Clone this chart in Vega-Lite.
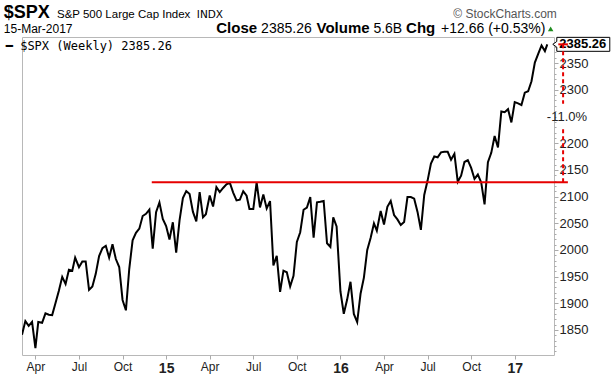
{
  "$schema": "https://vega.github.io/schema/vega-lite/v6.json",
  "width": 532,
  "height": 318,
  "autosize": "none",
  "padding": {"left": 22, "top": 37, "right": 58, "bottom": 23},
  "background": "white",
  "config": {"view": {"stroke": "#b8b8b8", "strokeWidth": 1}, "font": "Liberation Sans"},
  "resolve": {"axis": {"y": "independent"}},
  "data": {"values": [
    {"date":"2014-03-14","close":1841.13},{"date":"2014-03-21","close":1866.52},{"date":"2014-03-28","close":1857.62},{"date":"2014-04-04","close":1865.09},{"date":"2014-04-11","close":1815.69},{"date":"2014-04-17","close":1864.85},{"date":"2014-04-25","close":1863.40},{"date":"2014-05-02","close":1881.14},{"date":"2014-05-09","close":1878.48},{"date":"2014-05-16","close":1877.86},{"date":"2014-05-23","close":1900.53},{"date":"2014-05-30","close":1923.57},{"date":"2014-06-06","close":1949.44},{"date":"2014-06-13","close":1936.16},{"date":"2014-06-20","close":1962.87},{"date":"2014-06-27","close":1960.96},{"date":"2014-07-03","close":1985.44},{"date":"2014-07-11","close":1967.57},{"date":"2014-07-18","close":1978.22},{"date":"2014-07-25","close":1978.34},{"date":"2014-08-01","close":1925.15},{"date":"2014-08-08","close":1931.59},{"date":"2014-08-15","close":1955.06},{"date":"2014-08-22","close":1988.40},{"date":"2014-08-29","close":2003.37},{"date":"2014-09-05","close":2007.71},{"date":"2014-09-12","close":1985.54},{"date":"2014-09-19","close":2010.40},{"date":"2014-09-26","close":1982.85},{"date":"2014-10-03","close":1967.90},{"date":"2014-10-10","close":1906.13},{"date":"2014-10-17","close":1886.76},{"date":"2014-10-24","close":1964.58},{"date":"2014-10-31","close":2018.05},{"date":"2014-11-07","close":2031.92},{"date":"2014-11-14","close":2039.82},{"date":"2014-11-21","close":2063.50},{"date":"2014-11-28","close":2067.56},{"date":"2014-12-05","close":2075.37},{"date":"2014-12-12","close":2002.33},{"date":"2014-12-19","close":2070.65},{"date":"2014-12-26","close":2088.77},
    {"date":"2015-01-02","close":2058.20},{"date":"2015-01-09","close":2044.81},{"date":"2015-01-16","close":2019.42},{"date":"2015-01-23","close":2051.82},{"date":"2015-01-30","close":1994.99},{"date":"2015-02-06","close":2055.47},{"date":"2015-02-13","close":2096.99},{"date":"2015-02-20","close":2110.30},{"date":"2015-02-27","close":2104.50},{"date":"2015-03-06","close":2071.26},{"date":"2015-03-13","close":2053.40},{"date":"2015-03-20","close":2108.10},{"date":"2015-03-27","close":2061.02},{"date":"2015-04-02","close":2066.96},{"date":"2015-04-10","close":2102.06},{"date":"2015-04-17","close":2081.18},{"date":"2015-04-24","close":2117.69},{"date":"2015-05-01","close":2108.29},{"date":"2015-05-08","close":2116.10},{"date":"2015-05-15","close":2122.73},{"date":"2015-05-22","close":2126.06},{"date":"2015-05-29","close":2107.39},{"date":"2015-06-05","close":2092.83},{"date":"2015-06-12","close":2094.11},{"date":"2015-06-19","close":2109.99},{"date":"2015-06-26","close":2101.49},{"date":"2015-07-02","close":2076.78},{"date":"2015-07-10","close":2076.62},{"date":"2015-07-17","close":2126.64},{"date":"2015-07-24","close":2079.65},{"date":"2015-07-31","close":2103.84},{"date":"2015-08-07","close":2077.57},{"date":"2015-08-14","close":2091.54},{"date":"2015-08-21","close":1970.89},{"date":"2015-08-28","close":1988.87},{"date":"2015-09-04","close":1921.22},{"date":"2015-09-11","close":1961.05},{"date":"2015-09-18","close":1958.03},{"date":"2015-09-25","close":1931.34},{"date":"2015-10-02","close":1951.36},{"date":"2015-10-09","close":2014.89},{"date":"2015-10-16","close":2033.11},{"date":"2015-10-23","close":2075.15},{"date":"2015-10-30","close":2079.36},{"date":"2015-11-06","close":2099.20},{"date":"2015-11-13","close":2023.04},{"date":"2015-11-20","close":2089.17},{"date":"2015-11-27","close":2090.11},{"date":"2015-12-04","close":2091.69},{"date":"2015-12-11","close":2012.37},{"date":"2015-12-18","close":2005.55},{"date":"2015-12-24","close":2060.99},{"date":"2015-12-31","close":2043.94},
    {"date":"2016-01-08","close":1922.03},{"date":"2016-01-15","close":1880.33},{"date":"2016-01-22","close":1906.90},{"date":"2016-01-29","close":1940.24},{"date":"2016-02-05","close":1880.05},{"date":"2016-02-12","close":1864.78},{"date":"2016-02-19","close":1917.78},{"date":"2016-02-26","close":1948.05},{"date":"2016-03-04","close":1999.99},{"date":"2016-03-11","close":2022.19},{"date":"2016-03-18","close":2049.58},{"date":"2016-03-24","close":2035.94},{"date":"2016-04-01","close":2072.78},{"date":"2016-04-08","close":2047.60},{"date":"2016-04-15","close":2080.73},{"date":"2016-04-22","close":2091.58},{"date":"2016-04-29","close":2065.30},{"date":"2016-05-06","close":2057.14},{"date":"2016-05-13","close":2046.61},{"date":"2016-05-20","close":2052.32},{"date":"2016-05-27","close":2099.06},{"date":"2016-06-03","close":2099.13},{"date":"2016-06-10","close":2096.07},{"date":"2016-06-17","close":2071.22},{"date":"2016-06-24","close":2037.41},{"date":"2016-07-01","close":2102.95},{"date":"2016-07-08","close":2129.90},{"date":"2016-07-15","close":2161.74},{"date":"2016-07-22","close":2175.03},{"date":"2016-07-29","close":2173.60},{"date":"2016-08-05","close":2182.87},{"date":"2016-08-12","close":2184.05},{"date":"2016-08-19","close":2183.87},{"date":"2016-08-26","close":2169.04},{"date":"2016-09-02","close":2179.98},{"date":"2016-09-09","close":2127.81},{"date":"2016-09-16","close":2139.16},{"date":"2016-09-23","close":2164.69},{"date":"2016-09-30","close":2168.27},{"date":"2016-10-07","close":2153.74},{"date":"2016-10-14","close":2132.98},{"date":"2016-10-21","close":2141.16},{"date":"2016-10-28","close":2126.41},{"date":"2016-11-04","close":2085.18},{"date":"2016-11-11","close":2164.45},{"date":"2016-11-18","close":2181.90},{"date":"2016-11-25","close":2213.35},{"date":"2016-12-02","close":2191.95},{"date":"2016-12-09","close":2259.53},{"date":"2016-12-16","close":2258.07},{"date":"2016-12-23","close":2263.79},{"date":"2016-12-30","close":2238.83},
    {"date":"2017-01-06","close":2276.98},{"date":"2017-01-13","close":2274.64},{"date":"2017-01-20","close":2271.31},{"date":"2017-01-27","close":2294.69},{"date":"2017-02-03","close":2297.42},{"date":"2017-02-10","close":2316.10},{"date":"2017-02-17","close":2351.16},{"date":"2017-02-24","close":2367.34},{"date":"2017-03-03","close":2383.12},{"date":"2017-03-10","close":2372.60},{"date":"2017-03-15","close":2385.26}
  ]},
  "layer": [
    {
      "data": {"values": [{}]},
      "mark": {"type": "point", "opacity": 0},
      "encoding": {
        "y": {
          "datum": 2000, "type": "quantitative",
          "scale": {"domain": [1803, 2399], "zero": false, "nice": false},
          "axis": {
            "title": null, "orient": "right", "grid": false, "domain": false, "labels": false,
            "values": [1810,1820,1830,1840,1860,1870,1880,1890,1910,1920,1930,1940,1960,1970,1980,1990,2010,2020,2030,2040,2060,2070,2080,2090,2110,2120,2130,2140,2160,2170,2180,2190,2210,2220,2230,2240,2250,2260,2270,2280,2290,2310,2320,2330,2340,2360,2370,2380,2390],
            "tickSize": 2, "tickColor": "#aaa"
          }
        }
      }
    },
    {
      "mark": {"type": "line", "color": "black", "strokeWidth": 2, "clip": true},
      "encoding": {
        "x": {
          "field": "date", "type": "temporal",
          "scale": {"type": "utc", "domain": ["2014-03-14", "2017-03-29"]},
          "axis": {
            "title": null, "grid": false, "domain": false,
            "values": [
              {"year": 2014, "month": 4, "date": 11, "utc": true},
              {"year": 2014, "month": 7, "date": 11, "utc": true},
              {"year": 2014, "month": 10, "date": 10, "utc": true},
              {"year": 2015, "month": 1, "date": 9, "utc": true},
              {"year": 2015, "month": 4, "date": 10, "utc": true},
              {"year": 2015, "month": 7, "date": 10, "utc": true},
              {"year": 2015, "month": 10, "date": 9, "utc": true},
              {"year": 2016, "month": 1, "date": 8, "utc": true},
              {"year": 2016, "month": 4, "date": 8, "utc": true},
              {"year": 2016, "month": 7, "date": 8, "utc": true},
              {"year": 2016, "month": 10, "date": 7, "utc": true},
              {"year": 2017, "month": 1, "date": 6, "utc": true}
            ],
            "labelExpr": "utcmonth(datum.value) == 0 ? utcFormat(datum.value, '%y') : utcFormat(datum.value, '%b')",
            "labelFont": "Liberation Sans",
            "labelFontSize": {"condition": {"test": "utcmonth(datum.value) == 0", "value": 14}, "value": 12},
            "labelFontWeight": {"condition": {"test": "utcmonth(datum.value) == 0", "value": "bold"}, "value": "normal"},
            "labelColor": "#222", "labelPadding": 2, "labelFlush": false, "labelOverlap": false,
            "tickSize": 4, "tickColor": "#aaa"
          }
        },
        "y": {
          "field": "close", "type": "quantitative",
          "scale": {"domain": [1803, 2399], "zero": false, "nice": false},
          "axis": {
            "title": null, "orient": "right", "grid": false, "domain": false,
            "values": [1850, 1900, 1950, 2000, 2050, 2100, 2150, 2200, 2300, 2350],
            "format": "d",
            "tickSize": 4, "tickColor": "#aaa",
            "labelFont": "Liberation Sans", "labelFontSize": 13, "labelColor": "#222",
            "labelPadding": 1, "labelOverlap": false, "labelBound": false
          }
        }
      }
    },
    {
      "data": {"values": [{}]},
      "mark": {"type": "rule", "color": "#e60000", "strokeWidth": 2},
      "encoding": {
        "x": {"datum": {"year": 2014, "month": 12, "date": 10, "utc": true}, "type": "temporal"},
        "x2": {"datum": {"year": 2017, "month": 4, "date": 27, "utc": true}},
        "y": {"datum": 2127, "axis": null}
      }
    },
    {
      "data": {"values": [{}]},
      "mark": {"type": "point", "shape": "M-0.86,-0.245 L1,-0.245 L1,0.245 L-0.86,0.245 L-0.86,0.1 L-1,0 L-0.86,-0.1 Z", "size": 3249, "filled": true, "fill": "white", "stroke": "black", "strokeWidth": 1, "opacity": 1},
      "encoding": {
        "x": {"datum": {"year": 2017, "month": 5, "date": 25, "utc": true}, "type": "temporal"},
        "y": {"datum": 2385.26, "axis": null}
      }
    },
    {
      "data": {"values": [{}]},
      "mark": {"type": "text", "text": "2385.26", "font": "Liberation Sans", "fontSize": 13, "fontWeight": "bold", "color": "black", "align": "center", "baseline": "middle"},
      "encoding": {
        "x": {"datum": {"year": 2017, "month": 5, "date": 28, "utc": true}, "type": "temporal"},
        "y": {"datum": 2385.26, "axis": null}
      }
    },
    {
      "data": {"values": [{}]},
      "mark": {"type": "rule", "color": "#e60000", "strokeWidth": 2, "strokeDash": [4, 3]},
      "encoding": {
        "x": {"datum": {"year": 2017, "month": 4, "date": 17, "utc": true}, "type": "temporal"},
        "y": {"datum": 2385.26, "axis": null},
        "y2": {"datum": 2274}
      }
    },
    {
      "data": {"values": [{}]},
      "mark": {"type": "rule", "color": "#e60000", "strokeWidth": 2, "strokeDash": [4, 3]},
      "encoding": {
        "x": {"datum": {"year": 2017, "month": 4, "date": 17, "utc": true}, "type": "temporal"},
        "y": {"datum": 2226, "axis": null},
        "y2": {"datum": 2127}
      }
    },
    {
      "data": {"values": [{}]},
      "mark": {"type": "rule", "color": "#e60000", "strokeWidth": 2},
      "encoding": {
        "x": {"datum": {"year": 2017, "month": 4, "date": 7, "utc": true}, "type": "temporal"},
        "x2": {"datum": {"year": 2017, "month": 4, "date": 27, "utc": true}},
        "y": {"datum": 2385.26, "axis": null}
      }
    },
    {
      "data": {"values": [{}]},
      "mark": {"type": "text", "text": "-11.0%", "font": "Liberation Sans", "fontSize": 13, "color": "#222", "align": "center", "baseline": "middle"},
      "encoding": {
        "x": {"datum": {"year": 2017, "month": 4, "date": 25, "utc": true}, "type": "temporal"},
        "y": {"datum": 2249, "axis": null}
      }
    },
    {
      "data": {"values": [{}]},
      "mark": {"type": "text", "text": "━ $SPX (Weekly) 2385.26", "font": "DejaVu Sans Mono", "fontSize": 12, "color": "black", "align": "left", "baseline": "alphabetic"},
      "encoding": {
        "x": {"datum": {"year": 2014, "month": 2, "date": 8, "utc": true}, "type": "temporal"},
        "y": {"datum": 2374.6, "axis": null}
      }
    },
    {
      "data": {"values": [{}]},
      "mark": {"type": "text", "text": "$SPX", "font": "Liberation Sans", "fontSize": 18, "fontWeight": "bold", "color": "black", "align": "left", "baseline": "alphabetic"},
      "encoding": {
        "x": {"datum": {"year": 2014, "month": 2, "date": 4, "utc": true}, "type": "temporal"},
        "y": {"datum": 2434.6, "axis": null}
      }
    },
    {
      "data": {"values": [{}]},
      "mark": {"type": "text", "text": "S&P 500 Large Cap Index", "font": "Liberation Sans", "fontSize": 11.5, "color": "black", "align": "left", "baseline": "alphabetic"},
      "encoding": {
        "x": {"datum": {"year": 2014, "month": 5, "date": 26, "utc": true}, "type": "temporal"},
        "y": {"datum": 2434.6, "axis": null}
      }
    },
    {
      "data": {"values": [{}]},
      "mark": {"type": "text", "text": "INDX", "font": "DejaVu Sans", "fontSize": 10.5, "color": "black", "align": "left", "baseline": "alphabetic"},
      "encoding": {
        "x": {"datum": {"year": 2015, "month": 3, "date": 14, "utc": true}, "type": "temporal"},
        "y": {"datum": 2434.6, "axis": null}
      }
    },
    {
      "data": {"values": [{}]},
      "mark": {"type": "text", "text": "© StockCharts.com", "font": "Liberation Sans", "fontSize": 12, "color": "#555", "align": "right", "baseline": "alphabetic"},
      "encoding": {
        "x": {"datum": {"year": 2017, "month": 4, "date": 4, "utc": true}, "type": "temporal"},
        "y": {"datum": 2434.6, "axis": null}
      }
    },
    {
      "data": {"values": [{}]},
      "mark": {"type": "text", "text": "15-Mar-2017", "font": "Liberation Sans", "fontSize": 12, "color": "black", "align": "left", "baseline": "alphabetic"},
      "encoding": {
        "x": {"datum": {"year": 2014, "month": 2, "date": 4, "utc": true}, "type": "temporal"},
        "y": {"datum": 2406.5, "axis": null}
      }
    },
    {
      "data": {"values": [{}]},
      "mark": {"type": "text", "text": "Close", "font": "Liberation Sans", "fontSize": 15, "fontWeight": "bold", "color": "black", "align": "right", "baseline": "alphabetic"},
      "encoding": {
        "x": {"datum": {"year": 2015, "month": 7, "date": 18, "utc": true}, "type": "temporal"},
        "y": {"datum": 2406.5, "axis": null}
      }
    },
    {
      "data": {"values": [{}]},
      "mark": {"type": "text", "text": "2385.26", "font": "Liberation Sans", "fontSize": 14, "color": "black", "align": "right", "baseline": "alphabetic"},
      "encoding": {
        "x": {"datum": {"year": 2015, "month": 11, "date": 9, "utc": true}, "type": "temporal"},
        "y": {"datum": 2406.5, "axis": null}
      }
    },
    {
      "data": {"values": [{}]},
      "mark": {"type": "text", "text": "Volume", "font": "Liberation Sans", "fontSize": 15, "fontWeight": "bold", "color": "black", "align": "right", "baseline": "alphabetic"},
      "encoding": {
        "x": {"datum": {"year": 2016, "month": 3, "date": 9, "utc": true}, "type": "temporal"},
        "y": {"datum": 2406.5, "axis": null}
      }
    },
    {
      "data": {"values": [{}]},
      "mark": {"type": "text", "text": "5.6B", "font": "Liberation Sans", "fontSize": 14, "color": "black", "align": "right", "baseline": "alphabetic"},
      "encoding": {
        "x": {"datum": {"year": 2016, "month": 5, "date": 16, "utc": true}, "type": "temporal"},
        "y": {"datum": 2406.5, "axis": null}
      }
    },
    {
      "data": {"values": [{}]},
      "mark": {"type": "text", "text": "Chg", "font": "Liberation Sans", "fontSize": 15, "fontWeight": "bold", "color": "black", "align": "right", "baseline": "alphabetic"},
      "encoding": {
        "x": {"datum": {"year": 2016, "month": 7, "date": 24, "utc": true}, "type": "temporal"},
        "y": {"datum": 2406.5, "axis": null}
      }
    },
    {
      "data": {"values": [{}]},
      "mark": {"type": "text", "text": "+12.66 (+0.53%)", "font": "Liberation Sans", "fontSize": 14, "color": "black", "align": "right", "baseline": "alphabetic"},
      "encoding": {
        "x": {"datum": {"year": 2017, "month": 3, "date": 11, "utc": true}, "type": "temporal"},
        "y": {"datum": 2406.5, "axis": null}
      }
    },
    {
      "data": {"values": [{}]},
      "mark": {"type": "point", "shape": "triangle-up", "size": 30, "filled": true, "color": "#1e8c1e", "opacity": 1},
      "encoding": {
        "x": {"datum": {"year": 2017, "month": 3, "date": 22, "utc": true}, "type": "temporal"},
        "y": {"datum": 2414, "axis": null}
      }
    }
  ]
}
